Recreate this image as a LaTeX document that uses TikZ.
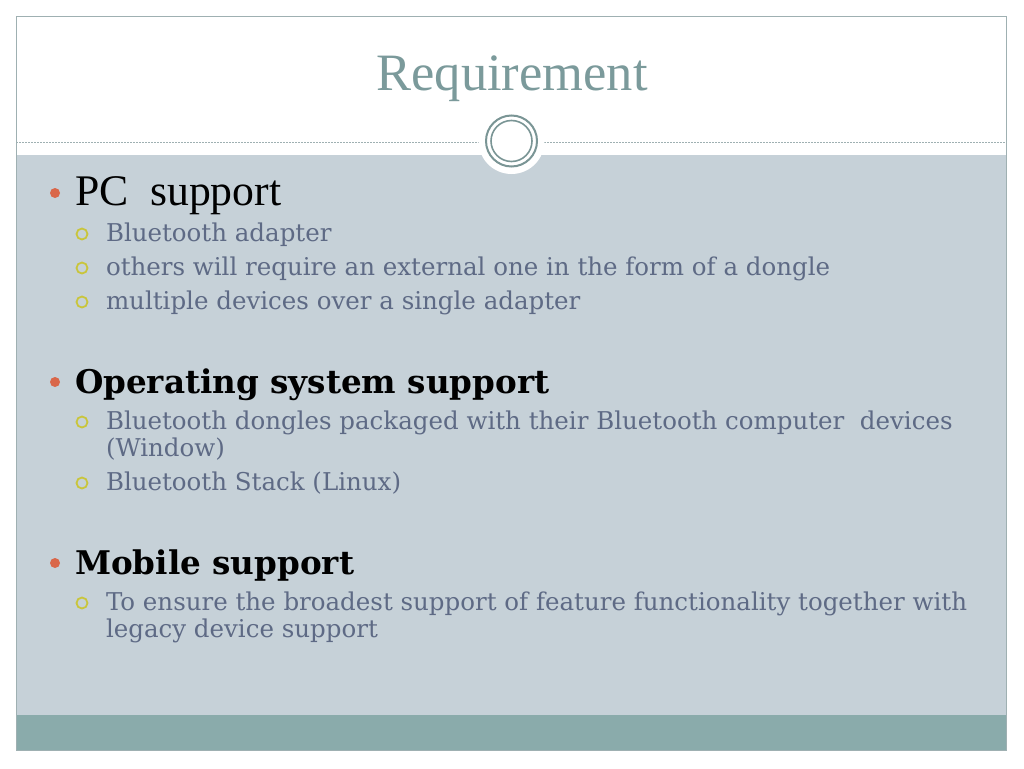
\documentclass[tikz,border=0pt]{standalone}
\usepackage{fontspec}
\setmainfont{DejaVu Serif}
\newfontfamily\headfont{Liberation Serif}
\usetikzlibrary{positioning}

\definecolor{frameline}{HTML}{9FB0B2}
\definecolor{titleteal}{HTML}{7B9A9B}
\definecolor{bodygray}{HTML}{C6D1D8}
\definecolor{footteal}{HTML}{8AABAB}
\definecolor{ringteal}{HTML}{7A9595}
\definecolor{dotred}{HTML}{D9674A}
\definecolor{hollowyellow}{HTML}{C9C53C}
\definecolor{subtext}{HTML}{5E6A85}

\begin{document}
\begin{tikzpicture}[
	x=1pt,y=-1pt,
	every node/.style={inner sep=0pt,outer sep=0pt},
	title/.style={font=\headfont\fontsize{52.5}{60}\selectfont,text=titleteal},
	topitem/.style={anchor=base west,font=\fontsize{32.6}{38}\selectfont\bfseries,text=black},
	pcitem/.style={anchor=base west,font=\headfont\fontsize{43.7}{50}\selectfont,text=black},
	subitem/.style={anchor=base west,align=left,font=\fontsize{24.5}{27}\selectfont,text=subtext},
	topdot/.style={circle,fill=dotred,minimum size=10pt},
	subdot/.style={circle,draw=hollowyellow,line width=1.8pt,minimum size=11pt}
]

% slide frame
\useasboundingbox (0,0) rectangle (1024,768);
\fill[white] (0,0) rectangle (1024,768);
\fill[bodygray] (16,155) rectangle (1006,715);
\fill[footteal] (16,715) rectangle (1006,750);
\draw[frameline,line width=0.8pt] (16,16) rectangle (1006,750);
\draw[frameline,line width=0.8pt,dashed,dash pattern=on 2pt off 1pt] (16,142) -- (1006,142);

% ring
\fill[white] (511.5,141) circle (33);
\draw[ringteal,line width=2pt] (511.5,141) circle (25.5);
\draw[ringteal,line width=1.6pt] (511.5,141) circle (20.5);

\node[title] (head) at (512,79) {Requirement};

% PC support
\node[topdot] (d1) at (55,193) {};
\node[pcitem] (pc) at (75,205) {PC\ \ support};
\node[subdot] (s1) at (82,234) {};
\node[subitem] (pc1) at (106,241) {Bluetooth adapter};
\node[subdot] (s2) at (82,268) {};
\node[subitem] (pc2) at (106,275) {others will require an external one in the form of a dongle};
\node[subdot] (s3) at (82,302) {};
\node[subitem] (pc3) at (106,309) {multiple devices over a single adapter};

% Operating system support (two-line texts sit on their last line)
\node[topdot] (d2) at (55,382) {};
\node[topitem] (os) at (75,393) {Operating system support};
\node[subdot] (s4) at (82,422) {};
\node[subitem] (os1) at (106,456) {Bluetooth dongles packaged with their Bluetooth computer\ \ devices\\(Window)};
\node[subdot] (s5) at (82,483) {};
\node[subitem] (os2) at (106,490) {Bluetooth Stack (Linux)};

% Mobile support
\node[topdot] (d3) at (55,563) {};
\node[topitem] (mob) at (75,574) {Mobile support};
\node[subdot] (s6) at (82,603) {};
\node[subitem] (mob1) at (106,637) {To ensure the broadest support of feature functionality together with\\legacy device support};

\end{tikzpicture}
\end{document}
